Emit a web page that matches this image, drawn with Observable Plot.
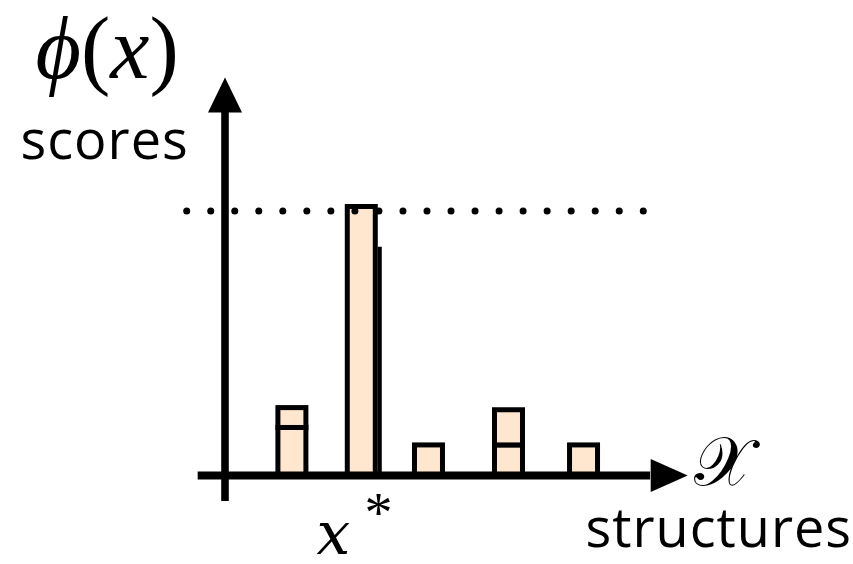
<!DOCTYPE html>
<html>
<head>
<meta charset="utf-8">
<script src="https://cdn.jsdelivr.net/npm/d3@7"></script>
<script src="https://cdn.jsdelivr.net/npm/@observablehq/plot@0.6"></script>
<style>
  html, body { margin: 0; padding: 0; background: #fff; }
  #chart svg { display: block; }
</style>
</head>
<body>
<div id="chart"></div>
<script>
// Structures along the x axis (axis units) and their scores
const structures = ["x1", "x*", "x3", "x4", "x5"];
const structurePos = [0.963, 1.954, 2.914, 4.057, 5.129];
const baseScore = [1.77, 10, 1.12, 1.12, 1.12];
const extraScore = [0.74, 0, 0, 1.31, 0];
const maxScoreLine = 9.85;

const bars = structures.map((s, i) => ({
  s, x: structurePos[i], base: baseScore[i], extra: extraScore[i]
}));

const halfW = 0.2;          // half bar width in axis units
const peach = "#ffe6cf";
const serif = "Liberation Serif, DejaVu Serif, serif";
const wideSerif = "DejaVu Serif, Liberation Serif, serif";
const sans = "Open Sans, Noto Sans, sans-serif";

// filled arrowhead with its tip at the origin, pointing up
function arrowHead(len, half) {
  return {
    draw(ctx) {
      ctx.moveTo(0, 0);
      ctx.lineTo(-half, len);
      ctx.lineTo(half, len);
      ctx.closePath();
    }
  };
}

// free-standing text placed by pixel offset from the top-left corner
function label(text, x, y, opts = {}) {
  return Plot.text([text], {
    text: d => d, frameAnchor: "top-left", dx: x, dy: y,
    textAnchor: "start", lineAnchor: "bottom", fill: "black", ...opts
  });
}

const chart = Plot.plot({
  width: 853,
  height: 564,
  margin: 0,
  x: { type: "linear", domain: [0, 1], range: [224.5, 294.5], axis: null },
  y: { type: "linear", domain: [0, 10], range: [475, 206.5], axis: null },
  marks: [
    // score bars (lower part)
    Plot.rect(bars, {
      x1: d => d.x - halfW, x2: d => d.x + halfW, y1: 0, y2: "base",
      fill: peach, stroke: "black", strokeWidth: 5
    }),
    // stacked upper parts
    Plot.rect(bars.filter(d => d.extra > 0), {
      x1: d => d.x - halfW, x2: d => d.x + halfW,
      y1: "base", y2: d => d.base + d.extra,
      fill: peach, stroke: "black", strokeWidth: 5
    }),
    // heavier right edge of the tallest bar
    Plot.ruleX(bars.filter(d => d.s === "x*"), {
      x: d => d.x + halfW, y1: 0, y2: 8.5, dx: 4, strokeWidth: 4, stroke: "black"
    }),
    // dotted line at the maximum score
    Plot.ruleY([maxScoreLine], {
      x1: -0.54, x2: 5.983, stroke: "black", strokeWidth: 7,
      strokeDasharray: "0 24.03", strokeLinecap: "round"
    }),
    // axes
    Plot.ruleY([0], { x1: -0.383, x2: 6.08, stroke: "black", strokeWidth: 8 }),
    Plot.ruleX([0], { y1: -0.97, y2: 13.52, stroke: "black", strokeWidth: 7.6 }),
    Plot.dot([{ x: 0, y: 14.82 }], {
      x: "x", y: "y", symbol: arrowHead(35, 17), fill: "black", stroke: null, r: 10
    }),
    Plot.dot([{ x: 6.61, y: 0 }], {
      x: "x", y: "y", symbol: arrowHead(37, 16.5), rotate: 90, fill: "black", stroke: null, r: 10
    }),
    // labels
    label("ϕ(x)", 35, 77, { fontFamily: serif, fontSize: 88 }),
    label("scores", 20, 158, { fontFamily: sans, fontSize: 54 }),
    label("x", 316, 553, { fontFamily: wideSerif, fontSize: 60, fontStyle: "italic" }),
    label("*", 364, 531, { fontFamily: serif, fontSize: 56 }),
    label("𝒳", 693, 484, { fontFamily: serif, fontSize: 68 }),
    label("structures", 585, 546, { fontFamily: sans, fontSize: 54 })
  ]
});

// italic symbols inside the score function label; letter spacing for the word labels
for (const t of chart.querySelectorAll("text")) {
  if (t.textContent === "ϕ(x)") {
    t.innerHTML = '<tspan font-style="italic">ϕ</tspan>(<tspan font-style="italic">x</tspan>)';
  } else if (t.textContent === "scores" || t.textContent === "structures") {
    t.setAttribute("letter-spacing", "1");
  }
}

document.getElementById("chart").appendChild(chart);
</script>
</body>
</html>
